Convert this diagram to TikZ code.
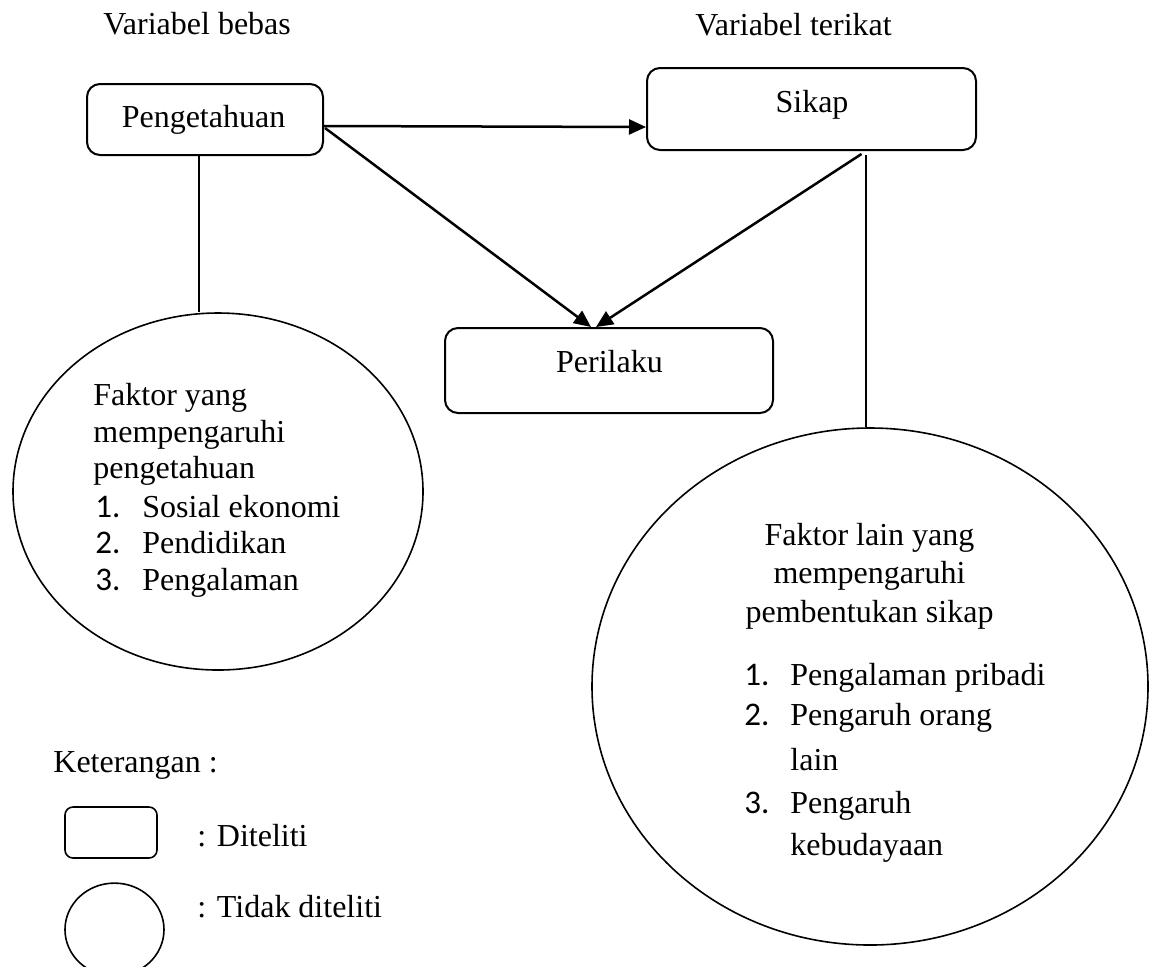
\documentclass[tikz,border=0pt]{standalone}
\usepackage{fontspec}
\setmainfont{Liberation Serif}
\newfontfamily\numf{Carlito}
\usetikzlibrary{arrows.meta,calc,shapes.geometric}
\begin{document}
\begin{tikzpicture}[x=0.5pt,y=-0.5pt,
  every node/.style={font=\fontsize{16}{18}\selectfont},
  txt/.style={inner sep=0pt, anchor=base west},
  ctxt/.style={inner sep=0pt, anchor=base},
  numtxt/.style={inner sep=0pt, anchor=base west, font=\numf\fontsize{16.5}{18}\selectfont},
  box/.style={draw, line width=1pt, rounded corners=6.5pt, inner sep=0pt},
  oval/.style={draw, ellipse, line width=0.8pt, inner sep=0pt},
  arr/.style={line width=1.25pt, -{Triangle[length=8.5pt,width=7.5pt]}},
  link/.style={line width=0.7pt}]
\useasboundingbox (0,0) rectangle (1150,966);
\clip (0,0) rectangle (1150,966);

% titles
\node[txt] (vb) at (103,34) {Variabel bebas};
\node[txt] (vt) at (695,35) {Variabel terikat};

% researched boxes
\node[box, minimum width=118pt, minimum height=35.5pt] (peng) at (205,119.5) {};
\node[ctxt] (pengt) at (203.5,127) {Pengetahuan};
\node[box, minimum width=164.5pt, minimum height=41pt] (sikap) at (811.5,109) {};
\node[ctxt] (sikapt) at (812,112) {Sikap};
\node[box, minimum width=164pt, minimum height=42.5pt] (peril) at (609,370.5) {};
\node[ctxt] (perilt) at (609.5,372) {Perilaku};

% not researched ellipses
\node[oval, minimum width=205pt, minimum height=178.5pt] (lell) at (218,491.5) {};
\node[oval, minimum width=278pt, minimum height=258.5pt] (rell) at (870,686.5) {};

% left ellipse text
\node[txt] (l1) at (93,405) {Faktor yang};
\node[txt] (l2) at (93,442) {mempengaruhi};
\node[txt] (l3) at (93,478) {pengetahuan};
\node[numtxt] (ln1) at (95,517) {1.};
\node[txt] (li1) at (142,517) {Sosial ekonomi};
\node[numtxt] (ln2) at (95,553) {2.};
\node[txt] (li2) at (142,553) {Pendidikan};
\node[numtxt] (ln3) at (95,590) {3.};
\node[txt] (li3) at (142,590) {Pengalaman};

% right ellipse text
\node[ctxt] (r1) at (869.5,545) {Faktor lain yang};
\node[ctxt] (r2) at (869.5,583) {mempengaruhi};
\node[ctxt] (r3) at (869.5,622) {pembentukan sikap};
\node[numtxt] (rn1) at (744,685) {1.};
\node[txt] (ri1) at (790,685) {Pengalaman pribadi};
\node[numtxt] (rn2) at (744,725) {2.};
\node[txt] (ri2) at (790,725) {Pengaruh orang};
\node[txt] (ri2b) at (790,770) {lain};
\node[numtxt] (rn3) at (744,813) {3.};
\node[txt] (ri3) at (790,813) {Pengaruh};
\node[txt] (ri3b) at (790,855) {kebudayaan};

% legend
\node[txt] (ket) at (53,772) {Keterangan :};
\node[box, line width=0.8pt, rounded corners=4pt, minimum width=46pt, minimum height=25.5pt] (lgbox) at (111,832.5) {};
\node[txt] (lgboxt) at (197,846) {: Diteliti};
\node[oval, minimum width=49.5pt, minimum height=46.5pt] (lgell) at (114.5,929.6) {};
\node[txt] (lgellt) at (197,917) {: Tidak diteliti};

% connectors
\draw[arr] ($(peng.east)+(0,6.5)$) -- ($(sikap.west)+(0,18)$);
\draw[arr] ($(peng.east)+(1,8.5)$) -- ($(peril.north)+(-18,0)$);
\draw[arr] ($(sikap.south)+(50,3)$) -- ($(peril.north)+(-13,0)$);
\coordinate (lt) at ($(peng.south)+(-6,0)$);
\draw[link] (lt) -- (lt |- lell.north);
\coordinate (rt) at ($(sikap.south)+(54.5,4)$);
\draw[link] (rt) -- (rt |- rell.north);
\end{tikzpicture}
\end{document}
